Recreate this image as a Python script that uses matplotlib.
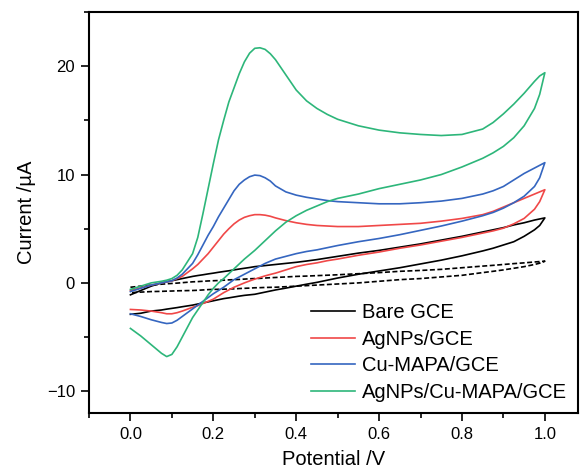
import numpy as np
import matplotlib
matplotlib.use("Agg")
import matplotlib.pyplot as plt
from matplotlib.ticker import MultipleLocator

plt.rcParams['font.family'] = ['Liberation Sans', 'DejaVu Sans']

# potential grid (V), same for forward and reverse scans
potential = [0.000, 0.025, 0.050, 0.075, 0.0875, 0.100, 0.1125, 0.125, 0.150,
             0.1625, 0.175, 0.1875, 0.200, 0.2125, 0.225, 0.2375, 0.250, 0.2625,
             0.275, 0.2875, 0.300, 0.3125, 0.325, 0.3375, 0.350, 0.375, 0.400,
             0.425, 0.450, 0.475, 0.500, 0.550, 0.600, 0.650, 0.700, 0.750,
             0.800, 0.850, 0.875, 0.900, 0.925, 0.950, 0.975, 0.9875, 1.000]

# currents (uA): forward scan (0 -> 1 V) and reverse scan (listed by ascending potential)
bare_fwd = [-1.1, -0.7, -0.3, 0.0, 0.1, 0.2, 0.3, 0.4, 0.6,
            0.68, 0.75, 0.83, 0.9, 0.98, 1.05, 1.12, 1.2, 1.28,
            1.35, 1.42, 1.5, 1.55, 1.6, 1.65, 1.7, 1.8, 1.9,
            2.02, 2.15, 2.3, 2.45, 2.75, 3.0, 3.3, 3.6, 3.95,
            4.3, 4.7, 4.9, 5.1, 5.35, 5.55, 5.8, 5.9, 6.0]
bare_rev = [-2.9, -2.8, -2.6, -2.5, -2.42, -2.35, -2.28, -2.2, -2.05,
            -1.95, -1.85, -1.75, -1.65, -1.55, -1.45, -1.38, -1.3, -1.22,
            -1.15, -1.1, -1.05, -0.95, -0.85, -0.75, -0.65, -0.48, -0.3,
            -0.12, 0.05, 0.25, 0.45, 0.8, 1.1, 1.4, 1.75, 2.1,
            2.5, 2.95, 3.2, 3.5, 3.8, 4.3, 4.9, 5.3, 6.0]

blank_fwd = [-0.4, -0.3, -0.2, -0.12, -0.08, -0.05, -0.02, 0.02, 0.1,
             0.12, 0.15, 0.18, 0.2, 0.22, 0.25, 0.28, 0.3, 0.32,
             0.35, 0.38, 0.4, 0.42, 0.45, 0.48, 0.5, 0.55, 0.6,
             0.63, 0.67, 0.71, 0.75, 0.85, 0.95, 1.07, 1.15, 1.25,
             1.4, 1.55, 1.62, 1.7, 1.78, 1.85, 1.93, 1.97, 2.0]
blank_rev = [-0.9, -0.85, -0.8, -0.78, -0.76, -0.75, -0.73, -0.72, -0.7,
             -0.68, -0.65, -0.62, -0.6, -0.59, -0.58, -0.56, -0.55, -0.52,
             -0.5, -0.48, -0.45, -0.44, -0.42, -0.41, -0.4, -0.35, -0.3,
             -0.25, -0.2, -0.15, -0.1, 0.0, 0.15, 0.3, 0.4, 0.55,
             0.7, 0.95, 1.07, 1.2, 1.35, 1.5, 1.7, 1.82, 2.0]

ag_fwd = [-0.7, -0.45, -0.2, 0.0, 0.1, 0.2, 0.4, 0.6, 1.3,
          1.7, 2.2, 2.7, 3.3, 3.9, 4.5, 5.0, 5.45, 5.8,
          6.05, 6.2, 6.3, 6.3, 6.25, 6.15, 6.0, 5.75, 5.55,
          5.4, 5.3, 5.25, 5.2, 5.2, 5.3, 5.4, 5.5, 5.7,
          5.95, 6.3, 6.6, 7.0, 7.4, 7.8, 8.2, 8.4, 8.6]
ag_rev = [-2.45, -2.5, -2.6, -2.75, -2.85, -2.85, -2.75, -2.6, -2.25,
          -2.1, -1.9, -1.7, -1.5, -1.2, -0.9, -0.65, -0.4, -0.2,
          0.0, 0.18, 0.35, 0.5, 0.65, 0.78, 0.9, 1.2, 1.5,
          1.7, 1.85, 2.05, 2.2, 2.55, 2.85, 3.2, 3.5, 3.85,
          4.2, 4.6, 4.8, 5.05, 5.45, 5.95, 6.8, 7.5, 8.6]

cu_fwd = [-0.8, -0.5, -0.2, 0.0, 0.1, 0.2, 0.45, 0.8, 1.8,
          2.6, 3.5, 4.4, 5.2, 6.1, 6.9, 7.7, 8.5, 9.1,
          9.5, 9.8, 9.95, 9.9, 9.7, 9.4, 8.95, 8.4, 8.1,
          7.9, 7.75, 7.6, 7.5, 7.4, 7.3, 7.3, 7.4, 7.55,
          7.8, 8.2, 8.5, 8.9, 9.5, 10.1, 10.6, 10.85, 11.1]
cu_rev = [-2.85, -3.1, -3.4, -3.65, -3.75, -3.7, -3.45, -3.1, -2.4,
          -2.05, -1.7, -1.35, -1.0, -0.7, -0.4, -0.05, 0.3, 0.55,
          0.8, 1.05, 1.3, 1.55, 1.8, 2.0, 2.2, 2.45, 2.7,
          2.9, 3.05, 3.25, 3.45, 3.8, 4.1, 4.45, 4.85, 5.25,
          5.7, 6.2, 6.5, 6.9, 7.4, 8.0, 8.9, 9.7, 11.1]

agcu_fwd = [-0.6, -0.3, 0.0, 0.15, 0.25, 0.4, 0.7, 1.2, 2.7,
            4.2, 6.4, 8.7, 11.0, 13.2, 15.0, 16.7, 18.0, 19.3,
            20.4, 21.2, 21.65, 21.7, 21.55, 21.15, 20.6, 19.2, 17.8,
            16.8, 16.1, 15.55, 15.1, 14.5, 14.1, 13.85, 13.7, 13.6,
            13.7, 14.2, 14.8, 15.6, 16.5, 17.5, 18.6, 19.1, 19.4]
agcu_rev = [-4.2, -4.9, -5.7, -6.5, -6.8, -6.6, -5.9, -5.0, -3.2,
            -2.5, -1.8, -1.1, -0.5, 0.0, 0.4, 0.85, 1.3, 1.75,
            2.2, 2.6, 3.0, 3.45, 3.9, 4.35, 4.8, 5.6, 6.2,
            6.7, 7.1, 7.5, 7.8, 8.2, 8.7, 9.1, 9.5, 10.0,
            10.7, 11.5, 12.0, 12.6, 13.4, 14.5, 16.1, 17.4, 19.4]

labels = ['Bare GCE', 'AgNPs/GCE', 'Cu-MAPA/GCE', 'AgNPs/Cu-MAPA/GCE']
colors = ['#000000', '#f04848', '#3566c0', '#2db67a']


def cycle(fwd, rev):
    e = np.array(potential)
    x = np.concatenate([e, e[::-1]])
    y = np.concatenate([fwd, np.array(rev)[::-1]])
    return x, y


fig = plt.figure(figsize=(5.87, 4.73), dpi=100)
ax = fig.add_axes([0.1516, 0.127, 0.8331, 0.8476])

x, y = cycle(blank_fwd, blank_rev)
ax.plot(x, y, color='black', lw=1.2, ls=(0, (3, 1.5)))

series = [(bare_fwd, bare_rev), (ag_fwd, ag_rev), (cu_fwd, cu_rev), (agcu_fwd, agcu_rev)]
for (f, r), lab, c in zip(series, labels, colors):
    x, y = cycle(f, r)
    ax.plot(x, y, color=c, lw=1.2, label=lab, solid_joinstyle='round')

ax.set_xlim(-0.1, 1.08)
ax.set_ylim(-12, 25)
ax.xaxis.set_major_locator(MultipleLocator(0.2))
ax.xaxis.set_minor_locator(MultipleLocator(0.1))
ax.yaxis.set_major_locator(MultipleLocator(10))
ax.yaxis.set_minor_locator(MultipleLocator(5))
ax.set_xticks([0.0, 0.2, 0.4, 0.6, 0.8, 1.0])
ax.set_xticklabels(['0.0', '0.2', '0.4', '0.6', '0.8', '1.0'])

ax.tick_params(which='both', direction='out', width=1.2, labelsize=12, top=False, right=False)
ax.tick_params(which='major', length=6, pad=4)
ax.tick_params(which='minor', length=3.8)
for s in ax.spines.values():
    s.set_linewidth(1.5)

ax.set_xlabel('Potential /V', fontsize=14.5, labelpad=6)
ax.set_ylabel('Current /\u00b5A', fontsize=14.5, labelpad=8)

ax.legend(loc='lower right', bbox_to_anchor=(1.0, 0.0), frameon=False, fontsize=14.5,
          handlelength=2.2, handletextpad=0.35, labelspacing=0.37, borderaxespad=0.15)

fig.savefig('out.png', dpi=100)
